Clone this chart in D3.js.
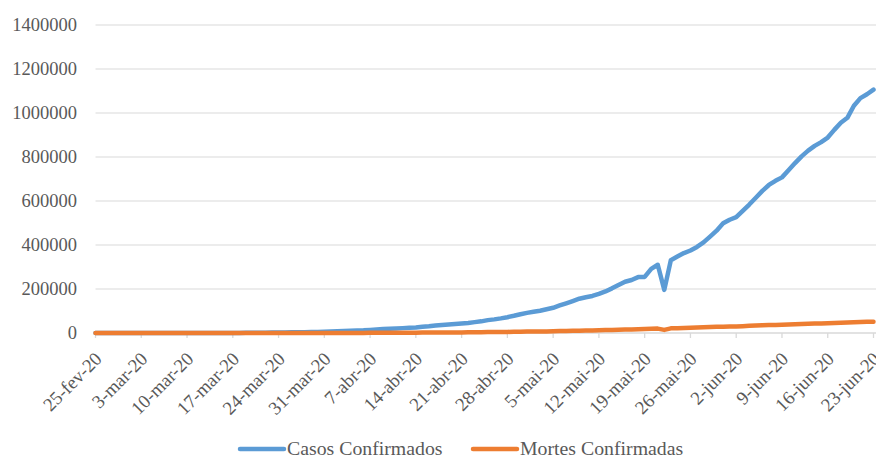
<!DOCTYPE html>
<html>
<head>
<meta charset="utf-8">
<script src="https://cdn.jsdelivr.net/npm/d3@7"></script>
<style>
  body { margin: 0; background: #fff; }
  svg text { font-family: "Liberation Serif", "Times New Roman", serif; fill: #595959; }
</style>
</head>
<body>
<div id="chart"></div>
<script>
// daily cumulative values, 25-fev-20 .. 23-jun-20
var casos = [
  0, 1, 1, 1, 2,                                                    // fev 25-29
  2, 2, 2, 3, 8, 13, 19, 25, 25, 34, 52, 77, 98, 121, 200, 234,      // mar 1-16
  291, 428, 621, 904, 1128, 1546, 1891, 2201, 2433, 2915, 3417,      // mar 17-27
  3904, 4256, 4579, 5717,                                            // mar 28-31
  6836, 7910, 9056, 10278, 11130, 12056, 13717, 15927, 17857, 19638, // abr 1-10
  20727, 22169, 23430, 25262, 28320, 30425, 33682, 36599, 38654, 40581,
  43079, 45757, 49492, 52995, 58509, 61888, 66501, 71886, 78162, 85380,
  91589, 96559, 101147, 107780, 114715, 125218, 135106, 145328, 155939, 162699, // mai 1-10
  168331, 177589, 188974, 202918, 218223, 233142, 241080, 254220, 254900, 291579,
  310087, 196000, 330890, 347398, 363211, 374898, 391222, 411821, 438238, 465166,
  498440,                                                            // mai 31
  514849, 526447, 555383, 584016, 614941, 645771, 672846, 691758, 707412, 739503, // jun 1-10
  772416, 802828, 828810, 850514, 867624, 888271, 923189, 955377, 978142, 1032913,
  1067579, 1085038, 1106470
];
var mortes = [
  0, 0, 0, 0, 0,
  0, 0, 0, 0, 0, 0, 0, 0, 0, 0, 0, 0, 0, 0, 0, 0,
  1, 4, 7, 11, 18, 25, 34, 46, 57, 77, 92,
  114, 136, 159, 201,
  240, 324, 359, 445, 486, 553, 667, 800, 941, 1056,
  1124, 1223, 1328, 1532, 1736, 1924, 2141, 2347, 2462, 2575,
  2741, 2906, 3313, 3704, 4057, 4205, 4543, 5017, 5466, 5901,
  6329, 6750, 7025, 7321, 7921, 8536, 9146, 9897, 10627, 11123,
  11625, 12400, 13149, 13993, 14817, 15633, 16118, 16792, 17971, 18859,
  20047, 14000, 21048, 22013, 22666, 23473, 24512, 25598, 26754, 27878,
  28834,
  29314, 29937, 31199, 32548, 34021, 35026, 35930, 36455, 37134, 38406,
  39680, 40919, 41828, 42720, 43332, 43959, 45241, 46510, 47748, 48954,
  49976, 50617, 51271
];
var seriesNames = ["Casos Confirmados", "Mortes Confirmadas"];
var seriesColors = ["#5b9bd5", "#ed7d31"];
var xTickLabels = ["25-fev-20", "3-mar-20", "10-mar-20", "17-mar-20", "24-mar-20", "31-mar-20",
  "7-abr-20", "14-abr-20", "21-abr-20", "28-abr-20", "5-mai-20", "12-mai-20", "19-mai-20",
  "26-mai-20", "2-jun-20", "9-jun-20", "16-jun-20", "23-jun-20"];
var yTicks = [0, 200000, 400000, 600000, 800000, 1000000, 1200000, 1400000];

var W = 876, H = 457;
var plotL = 95.5, plotR = 873.5, plotT = 25, plotB = 333;

// category dates, one per day
var start = new Date(2020, 1, 25), end = new Date(2020, 5, 23);
var days = d3.timeDay.range(start, d3.timeDay.offset(end, 1));

var meses = {fev: 1, mar: 2, abr: 3, mai: 4, jun: 5};
function parseLabel(s) {
  var p = s.split("-");
  return new Date(2000 + (+p[2]), meses[p[1]], +p[0]);
}

var x = d3.scaleTime().domain([start, end]).range([plotL, plotR]);
var y = d3.scaleLinear().domain([0, 1400000]).range([plotB, plotT]);

var svg = d3.select("#chart").append("svg")
    .attr("width", W)
    .attr("height", H);

// gridlines
svg.append("g")
  .selectAll("line")
  .data(yTicks.slice(1))
  .enter().append("line")
    .attr("x1", plotL)
    .attr("x2", W)
    .attr("y1", function(d) { return y(d); })
    .attr("y2", function(d) { return y(d); })
    .attr("stroke", "#d9d9d9")
    .attr("stroke-width", 1);

// y labels
svg.append("g")
  .selectAll("text")
  .data(yTicks)
  .enter().append("text")
    .attr("x", 77)
    .attr("y", function(d) { return y(d); })
    .attr("dy", "0.33em")
    .attr("text-anchor", "end")
    .style("font-size", "18.5px")
    .text(function(d) { return d; });

// x axis line and ticks
var tickDates = xTickLabels.map(parseLabel);
svg.append("line")
    .attr("x1", plotL)
    .attr("x2", W)
    .attr("y1", plotB)
    .attr("y2", plotB)
    .attr("stroke", "#d9d9d9")
    .attr("stroke-width", 1.3);

svg.append("g")
  .selectAll("line")
  .data(tickDates)
  .enter().append("line")
    .attr("x1", function(d) { return x(d); })
    .attr("x2", function(d) { return x(d); })
    .attr("y1", plotB)
    .attr("y2", plotB + 5)
    .attr("stroke", "#d9d9d9")
    .attr("stroke-width", 1.3);

svg.append("g")
  .selectAll("text")
  .data(xTickLabels)
  .enter().append("text")
    .attr("transform", function(d, i) {
      return "translate(" + (x(tickDates[i]) + 7.5) + ",360) rotate(-45)";
    })
    .attr("text-anchor", "end")
    .style("font-size", "18.8px")
    .text(function(d) { return d; });

// lines
var line = d3.line()
    .x(function(d, i) { return x(days[i]); })
    .y(function(d) { return y(d); });

[casos, mortes].forEach(function(s, k) {
  svg.append("path")
      .datum(s)
      .attr("d", line)
      .attr("fill", "none")
      .attr("stroke", seriesColors[k])
      .attr("stroke-width", 4.5)
      .attr("stroke-linejoin", "round")
      .attr("stroke-linecap", "round");
});

// legend
var legendX = [240, 473];
var legend = svg.append("g")
  .selectAll("g")
  .data(seriesNames)
  .enter().append("g")
    .attr("transform", function(d, i) { return "translate(" + legendX[i] + ",449)"; });

legend.append("line")
    .attr("x1", 0)
    .attr("x2", 44)
    .attr("stroke", function(d, i) { return seriesColors[i]; })
    .attr("stroke-width", 4.5)
    .attr("stroke-linecap", "round");

legend.append("text")
    .attr("x", 47)
    .attr("y", 6)
    .style("font-size", "19.8px")
    .text(function(d) { return d; });
</script>
</body>
</html>
